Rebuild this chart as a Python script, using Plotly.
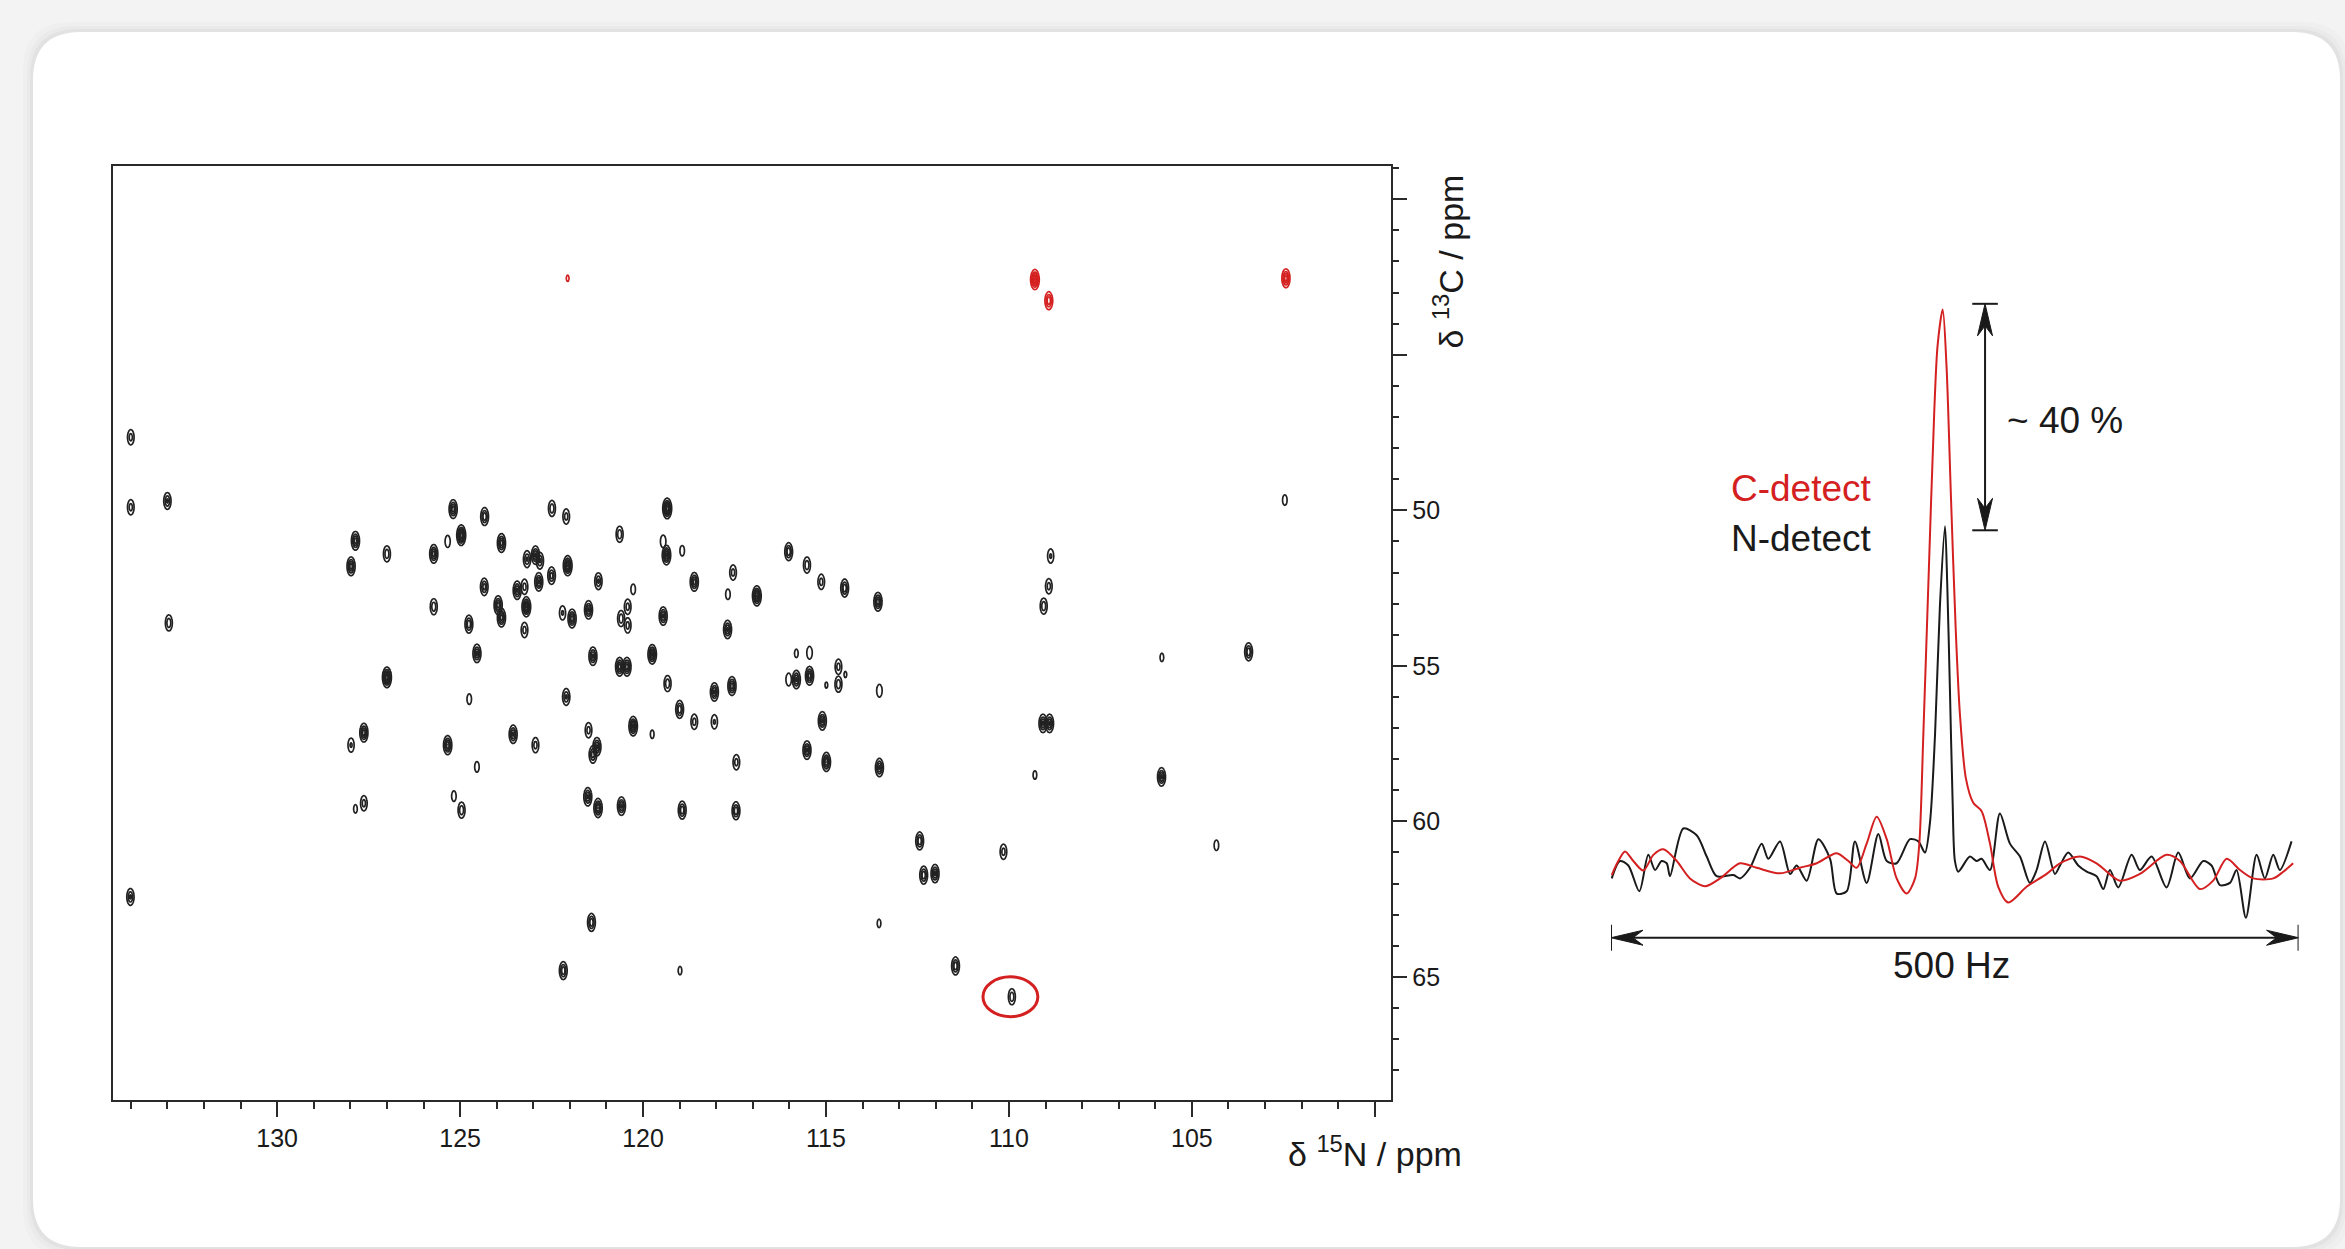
import numpy as np
import plotly.graph_objects as go

W, H = 2345, 1249

# ---------------- 2D 15N-13C correlation peaks (ppm) ----------------
n_black = [134.00, 134.00, 133.00, 132.96, 134.01, 127.86, 127.98, 127.00, 125.72, 125.34,
           124.97, 125.19, 124.33, 123.87, 124.34, 125.72, 123.96, 123.87, 124.76, 122.49,
           122.10, 120.64, 119.34, 119.45, 119.36, 118.93, 116.02, 115.52, 115.13, 114.49,
           113.58, 116.89, 117.54, 117.68, 117.69, 118.60, 119.45, 120.27, 120.42, 120.60,
           120.42, 121.22, 121.49, 121.94, 122.20, 122.06, 122.50, 122.85, 122.94, 122.82,
           123.17, 123.44, 123.24, 123.19, 123.24, 127.00, 124.54, 124.75, 127.63, 127.98,
           125.34, 124.54, 127.63, 127.86, 125.17, 124.96, 123.55, 122.94, 122.10, 121.37,
           120.64, 120.44, 119.75, 119.33, 118.05, 117.57, 119.00, 118.60, 118.05, 120.27,
           119.75, 121.49, 121.26, 121.37, 117.45, 121.51, 121.23, 120.59, 118.93, 117.46,
           115.81, 115.45, 115.81, 115.45, 116.02, 114.66, 114.66, 114.99, 114.47, 113.54,
           115.10, 115.52, 114.99, 113.54, 103.45, 105.82, 109.05, 109.07, 108.89, 105.83,
           109.29, 104.33, 112.44, 112.33, 112.02, 110.15, 113.55, 111.46, 109.92, 121.41,
           122.18, 118.99, 102.46, 108.86, 108.91]
c_black = [47.65, 49.90, 49.70, 53.62, 62.43, 50.98, 51.80, 51.40, 51.40, 51.00,
           50.80, 49.96, 50.20, 51.05, 52.46, 53.10, 53.05, 53.45, 53.66, 49.94,
           50.20, 50.77, 49.94, 51.00, 51.44, 51.30, 51.33, 51.76, 52.30, 52.50,
           52.94, 52.75, 52.00, 52.70, 53.83, 52.30, 53.40, 52.54, 53.10, 53.48,
           53.70, 52.28, 53.20, 53.48, 53.30, 51.78, 52.10, 52.30, 51.44, 51.62,
           51.57, 52.57, 52.46, 53.10, 53.85, 55.37, 54.60, 56.07, 57.15, 57.55,
           57.55, 58.25, 59.42, 59.60, 59.19, 59.64, 57.20, 57.55, 56.00, 54.69,
           55.03, 55.03, 54.63, 55.57, 55.84, 55.65, 56.40, 56.80, 56.80, 56.94,
           57.20, 57.07, 57.60, 57.85, 58.10, 59.21, 59.57, 59.51, 59.64, 59.66,
           54.60, 54.58, 55.44, 55.32, 55.44, 55.03, 55.59, 55.62, 55.28, 55.80,
           56.77, 57.71, 58.09, 58.27, 54.55, 54.73, 53.08, 56.85, 56.85, 58.57,
           58.51, 60.77, 60.63, 61.73, 61.68, 60.98, 63.28, 64.65, 65.64, 63.25,
           64.80, 64.80, 49.67, 51.47, 52.44]
i_black = [0.30, 0.30, 0.40, 0.35, 0.40, 0.60, 0.60, 0.35, 0.60, 0.18,
           0.90, 0.60, 0.50, 0.60, 0.45, 0.35, 0.60, 0.60, 0.50, 0.35,
           0.30, 0.35, 0.90, 0.20, 0.70, 0.15, 0.50, 0.35, 0.30, 0.50,
           0.60, 0.80, 0.30, 0.15, 0.55, 0.60, 0.55, 0.15, 0.30, 0.35,
           0.30, 0.40, 0.55, 0.60, 0.25, 0.80, 0.45, 0.55, 0.55, 0.40,
           0.40, 0.55, 0.30, 0.80, 0.30, 0.90, 0.55, 0.15, 0.60, 0.25,
           0.65, 0.15, 0.30, 0.12, 0.15, 0.35, 0.55, 0.30, 0.40, 0.55,
           0.60, 0.60, 0.70, 0.35, 0.55, 0.60, 0.50, 0.30, 0.25, 0.70,
           0.12, 0.30, 0.55, 0.45, 0.30, 0.55, 0.65, 0.55, 0.50, 0.50,
           0.12, 0.20, 0.55, 0.60, 0.20, 0.30, 0.35, 0.10, 0.10, 0.20,
           0.55, 0.55, 0.65, 0.55, 0.50, 0.12, 0.35, 0.55, 0.55, 0.55,
           0.12, 0.15, 0.50, 0.50, 0.55, 0.30, 0.12, 0.50, 0.35, 0.50,
           0.50, 0.12, 0.15, 0.25, 0.30]

n_red = [109.29, 108.91, 102.43, 122.06]
c_red = [42.58, 43.26, 42.54, 42.54]
i_red = [0.80, 0.50, 0.60, 0.10]

highlight_n = 109.96
highlight_c = 65.64

n_ticks = [100, 105, 110, 115, 120, 125, 130]
n_ticktext = ["", "105", "110", "115", "120", "125", "130"]
c_ticks = [40, 45, 50, 55, 60, 65]
c_ticktext = ["", "", "50", "55", "60", "65"]

# ---------------- 1D slices (Hz, relative intensity) ----------------
red_hz = [0.5, 5.3, 10.2, 16.2, 23.5, 30.8, 38.1, 47.8, 57.4, 68.4, 79.3, 93.8, 105.9, 122.9,
          137.4, 149.6, 164.1, 172.6, 178.6, 185.9, 193.2, 200.5, 207.7, 215.0, 221.1, 224.2,
          227.1, 230.8, 235.1, 237.5, 241.2, 244.0, 247.2, 250.6, 253.7, 258.1, 263.4, 269.5,
          275.6, 281.6, 288.9, 302.2, 316.8, 326.5, 341.0, 353.1, 370.1, 384.6, 404.0, 413.7,
          428.3, 437.9, 447.7, 457.4, 467.0, 481.6, 488.9, 496.1]
red_int = [-0.9, 1.6, 3.3, 1.6, -0.1, 2.7, 3.7, 1.6, -1.5, -2.9, -1.5, 1.2, 0.4, -0.6,
           0.4, 1.2, 3.0, 1.6, 0.4, 4.7, 9.5, 5.5, -1.5, -4.2, -1.5, 4.7,
           24.0, 51.1, 82.0, 93.6, 100.0, 89.8, 66.6, 43.4, 27.9, 16.3, 12.0, 10.5,
           4.7, -3.0, -5.8, -3.0, -0.7, 1.2, 2.4, 1.2, -1.9, -0.7, 2.7, 1.6,
           -3.4, -1.9, 2.0, 0.0, -1.5, -1.5, -0.3, 1.2]
black_hz = [0.5, 6.5, 12.6, 20.6, 27.1, 32.0, 36.8, 40.5, 42.9, 52.6, 62.3, 69.6, 76.8, 89.0,
            93.8, 101.1, 109.6, 114.4, 122.9, 130.2, 135.0, 142.3, 150.8, 159.3, 164.1, 171.4,
            177.4, 185.9, 194.4, 200.5, 207.7, 217.4, 223.5, 228.3, 232.0, 235.6, 239.2, 242.9,
            244.5, 246.5, 248.4, 250.1, 252.5, 261.0, 265.9, 269.5, 275.6, 282.8, 290.1, 297.4,
            304.6, 309.5, 315.6, 322.8, 326.5, 332.5, 339.8, 345.9, 353.1, 358.0, 362.8, 368.9,
            378.6, 384.6, 393.1, 404.0, 412.5, 421.0, 430.7, 436.7, 442.8, 450.1, 454.9, 461.7,
            469.5, 475.5, 481.6, 486.4, 494.9]
black_int = [-1.5, 1.6, 0.8, -3.8, 2.7, 0.0, 1.6, 1.2, -1.1, 7.4, 6.2, 2.4, -1.1, -0.9,
             -1.5, 0.4, 4.7, 2.0, 5.1, -0.7, 0.8, -1.9, 5.5, 2.0, -4.2, -3.8,
             5.1, -2.3, 6.4, 1.6, 1.2, 5.5, 5.1, 3.1, 8.6, 24.0, 47.2, 61.3,
             51.1, 31.8, 12.4, 1.6, -0.3, 2.4, 1.6, 2.0, 0.0, 10.1, 4.7, 2.4,
             -2.3, 0.0, 5.1, -0.7, 0.8, 3.1, 0.8, -0.3, -1.1, -3.4, 0.0, -3.1,
             2.7, 0.0, 2.4, -3.1, 3.1, -1.5, 1.6, 0.8, -2.7, -2.3, 0.0, -8.5,
             2.7, -1.5, 2.7, 0.0, 5.1]

span_hz = [0, 500]
ratio_top = 101.0
ratio_bottom = 60.6

# ---------------- styling ----------------
FONT = "Arial, Liberation Sans, sans-serif"
RED = "#d42020"
INK = "#1a1a1a"
PEAK_INK = "#222222"
SX, SY = 0.055, 0.15  # peak widths (ppm)

fig = go.Figure()


def add_peak(n, c, a, color):
    gx = np.linspace(n - 4 * SX, n + 4 * SX, 29)
    gy = np.linspace(c - 4 * SY, c + 4 * SY, 29)
    X, Y = np.meshgrid(gx, gy)
    Z = a * np.exp(-((X - n) ** 2 / (2 * SX ** 2) + (Y - c) ** 2 / (2 * SY ** 2)))
    fig.add_trace(go.Contour(
        x=gx, y=gy, z=Z, autocontour=False,
        contours=dict(start=0.08, end=1.0, size=0.14, coloring="none"),
        line=dict(color=color, width=1.7), showscale=False, hoverinfo="skip",
        xaxis="x", yaxis="y", showlegend=False))


for n, c, a in zip(n_black, c_black, i_black):
    add_peak(n, c, a, PEAK_INK)
for n, c, a in zip(n_red, c_red, i_red):
    add_peak(n, c, a, RED)

# 1D traces
fig.add_trace(go.Scatter(x=black_hz, y=black_int, mode="lines",
                         line=dict(color=INK, width=2, shape="spline", smoothing=0.8),
                         xaxis="x2", yaxis="y2", showlegend=False, hoverinfo="skip"))
fig.add_trace(go.Scatter(x=red_hz, y=red_int, mode="lines",
                         line=dict(color=RED, width=2, shape="spline", smoothing=0.8),
                         xaxis="x2", yaxis="y2", showlegend=False, hoverinfo="skip"))

# ---------------- geometry ----------------
X2_RANGE = [0, 500]
Y2_RANGE = [-23.19, 110.6]
X2_DOM = [0.6870, 0.9802]
Y2_DOM = [0.19936, 0.79984]
px_per_hz = (X2_DOM[1] - X2_DOM[0]) * W / (X2_RANGE[1] - X2_RANGE[0])
px_per_int = (Y2_DOM[1] - Y2_DOM[0]) * H / (Y2_RANGE[1] - Y2_RANGE[0])

shapes = []

# card background
x0, x1 = 33 / W, 2340 / W
yt, yb = 1 - 32 / H, 1 - 1247 / H
rx, ry = 48 / W, 48 / H


def rounded(x0, x1, yb, yt, rx, ry):
    return (f"M {x0+rx},{yt} L {x1-rx},{yt} Q {x1},{yt} {x1},{yt-ry} "
            f"L {x1},{yb+ry} Q {x1},{yb} {x1-rx},{yb} L {x0+rx},{yb} "
            f"Q {x0},{yb} {x0},{yb+ry} L {x0},{yt-ry} Q {x0},{yt} {x0+rx},{yt} Z")


for k, alpha in [(10, 0.015), (6, 0.02), (3, 0.03)]:
    shapes.append(dict(type="path", xref="paper", yref="paper", layer="below",
                       path=rounded(x0 - k / W, x1 + k / W, yb - k / H, yt + k / H, rx, ry),
                       fillcolor=f"rgba(0,0,0,{alpha})", line=dict(width=0)))
shapes.append(dict(type="path", xref="paper", yref="paper", layer="below",
                   path=rounded(x0, x1, yb, yt, rx, ry),
                   fillcolor="#ffffff", line=dict(width=0)))

# highlight ellipse
shapes.append(dict(type="circle", xref="x", yref="y",
                   x0=highlight_n + 0.75, x1=highlight_n - 0.75,
                   y0=highlight_c - 0.64, y1=highlight_c + 0.64,
                   line=dict(color=RED, width=3)))

# 500 Hz double arrow
arrow_y = -12.08
L_px, N_px, h_px = 32, 22, 7.5
Lh, Nh = L_px / px_per_hz, N_px / px_per_hz
hv = h_px / px_per_int
shapes.append(dict(type="line", xref="x2", yref="y2", x0=span_hz[0] + Nh, x1=span_hz[1] - Nh,
                   y0=arrow_y, y1=arrow_y, line=dict(color=INK, width=2)))
for xe in span_hz:
    shapes.append(dict(type="line", xref="x2", yref="y2", x0=xe, x1=xe,
                       y0=arrow_y + 13 / px_per_int, y1=arrow_y - 13 / px_per_int,
                       line=dict(color=INK, width=2)))
for xe, sgn in [(span_hz[0], 1), (span_hz[1], -1)]:
    p = (f"M {xe},{arrow_y} L {xe+sgn*Lh},{arrow_y+hv} L {xe+sgn*Nh},{arrow_y} "
         f"L {xe+sgn*Lh},{arrow_y-hv} Z")
    shapes.append(dict(type="path", xref="x2", yref="y2", path=p,
                       fillcolor=INK, line=dict(color=INK, width=1)))

# ~40 % double arrow
ax_hz = 272.0
Lv, Nv = L_px / px_per_int, N_px / px_per_int
hh = h_px / px_per_hz
shapes.append(dict(type="line", xref="x2", yref="y2", x0=ax_hz, x1=ax_hz,
                   y0=ratio_top - Nv, y1=ratio_bottom + Nv, line=dict(color=INK, width=2)))
for ye in [ratio_top, ratio_bottom]:
    shapes.append(dict(type="line", xref="x2", yref="y2", x0=ax_hz - 9.3, x1=ax_hz + 9.3,
                       y0=ye, y1=ye, line=dict(color=INK, width=2)))
for ye, sgn in [(ratio_top, -1), (ratio_bottom, 1)]:
    p = (f"M {ax_hz},{ye} L {ax_hz+hh},{ye+sgn*Lv} L {ax_hz},{ye+sgn*Nv} "
         f"L {ax_hz-hh},{ye+sgn*Lv} Z")
    shapes.append(dict(type="path", xref="x2", yref="y2", path=p,
                       fillcolor=INK, line=dict(color=INK, width=1)))

annotations = [
    dict(text="C-detect", x=191.2, y=68.0, xref="x2", yref="y2", xanchor="right",
         yanchor="middle", showarrow=False, font=dict(size=37, color=RED, family=FONT)),
    dict(text="N-detect", x=191.2, y=59.2, xref="x2", yref="y2", xanchor="right",
         yanchor="middle", showarrow=False, font=dict(size=37, color=INK, family=FONT)),
    dict(text="~ 40 %", x=286.5, y=80.1, xref="x2", yref="y2", xanchor="left",
         yanchor="middle", showarrow=False, font=dict(size=37, color=INK, family=FONT)),
    dict(text="500 Hz", x=247.7, y=-17.0, xref="x2", yref="y2", xanchor="center",
         yanchor="middle", showarrow=False, font=dict(size=37, color=INK, family=FONT)),
    dict(text="δ <sup>15</sup>N / ppm", x=100, y=1 - 1151 / H, xref="x", yref="paper",
         xanchor="center", yanchor="middle", showarrow=False,
         font=dict(size=34, color=INK, family=FONT)),
    dict(text="δ <sup>13</sup>C / ppm", x=1448 / W, y=42.0, xref="paper", yref="y",
         xanchor="center", yanchor="middle", textangle=-90, showarrow=False,
         font=dict(size=34, color=INK, family=FONT)),
]

axis_common = dict(showgrid=False, zeroline=False, showline=True, linecolor="#2a2a2a",
                   linewidth=2, mirror=True, ticks="outside", tickwidth=2, tickcolor="#2a2a2a",
                   tickfont=dict(size=25, color=INK, family=FONT))

fig.update_layout(
    width=W, height=H, autosize=False,
    margin=dict(l=0, r=0, t=0, b=0),
    paper_bgcolor="#f3f3f3", plot_bgcolor="rgba(0,0,0,0)",
    showlegend=False,
    xaxis=dict(domain=[112.5 / W, 1391.3 / W], range=[134.5, 99.55], anchor="y",
               tickmode="array", tickvals=n_ticks, ticktext=n_ticktext, ticklen=15,
               minor=dict(tickmode="linear", tick0=0, dtick=1, ticks="outside", ticklen=7,
                          tickwidth=1.5, tickcolor="#2a2a2a"),
               **axis_common),
    yaxis=dict(domain=[1 - 1100 / H, 1 - 165.7 / H], range=[68.96, 38.92], anchor="x",
               side="right", tickmode="array", tickvals=c_ticks, ticktext=c_ticktext,
               ticklen=14,
               minor=dict(tickmode="linear", tick0=0, dtick=1, ticks="outside", ticklen=6,
                          tickwidth=1.5, tickcolor="#2a2a2a"),
               **axis_common),
    xaxis2=dict(domain=X2_DOM, range=X2_RANGE, anchor="y2", visible=False),
    yaxis2=dict(domain=Y2_DOM, range=Y2_RANGE, anchor="x2", visible=False),
    shapes=shapes,
    annotations=annotations,
    font=dict(family=FONT, color=INK),
)

fig.write_html("out.html")
